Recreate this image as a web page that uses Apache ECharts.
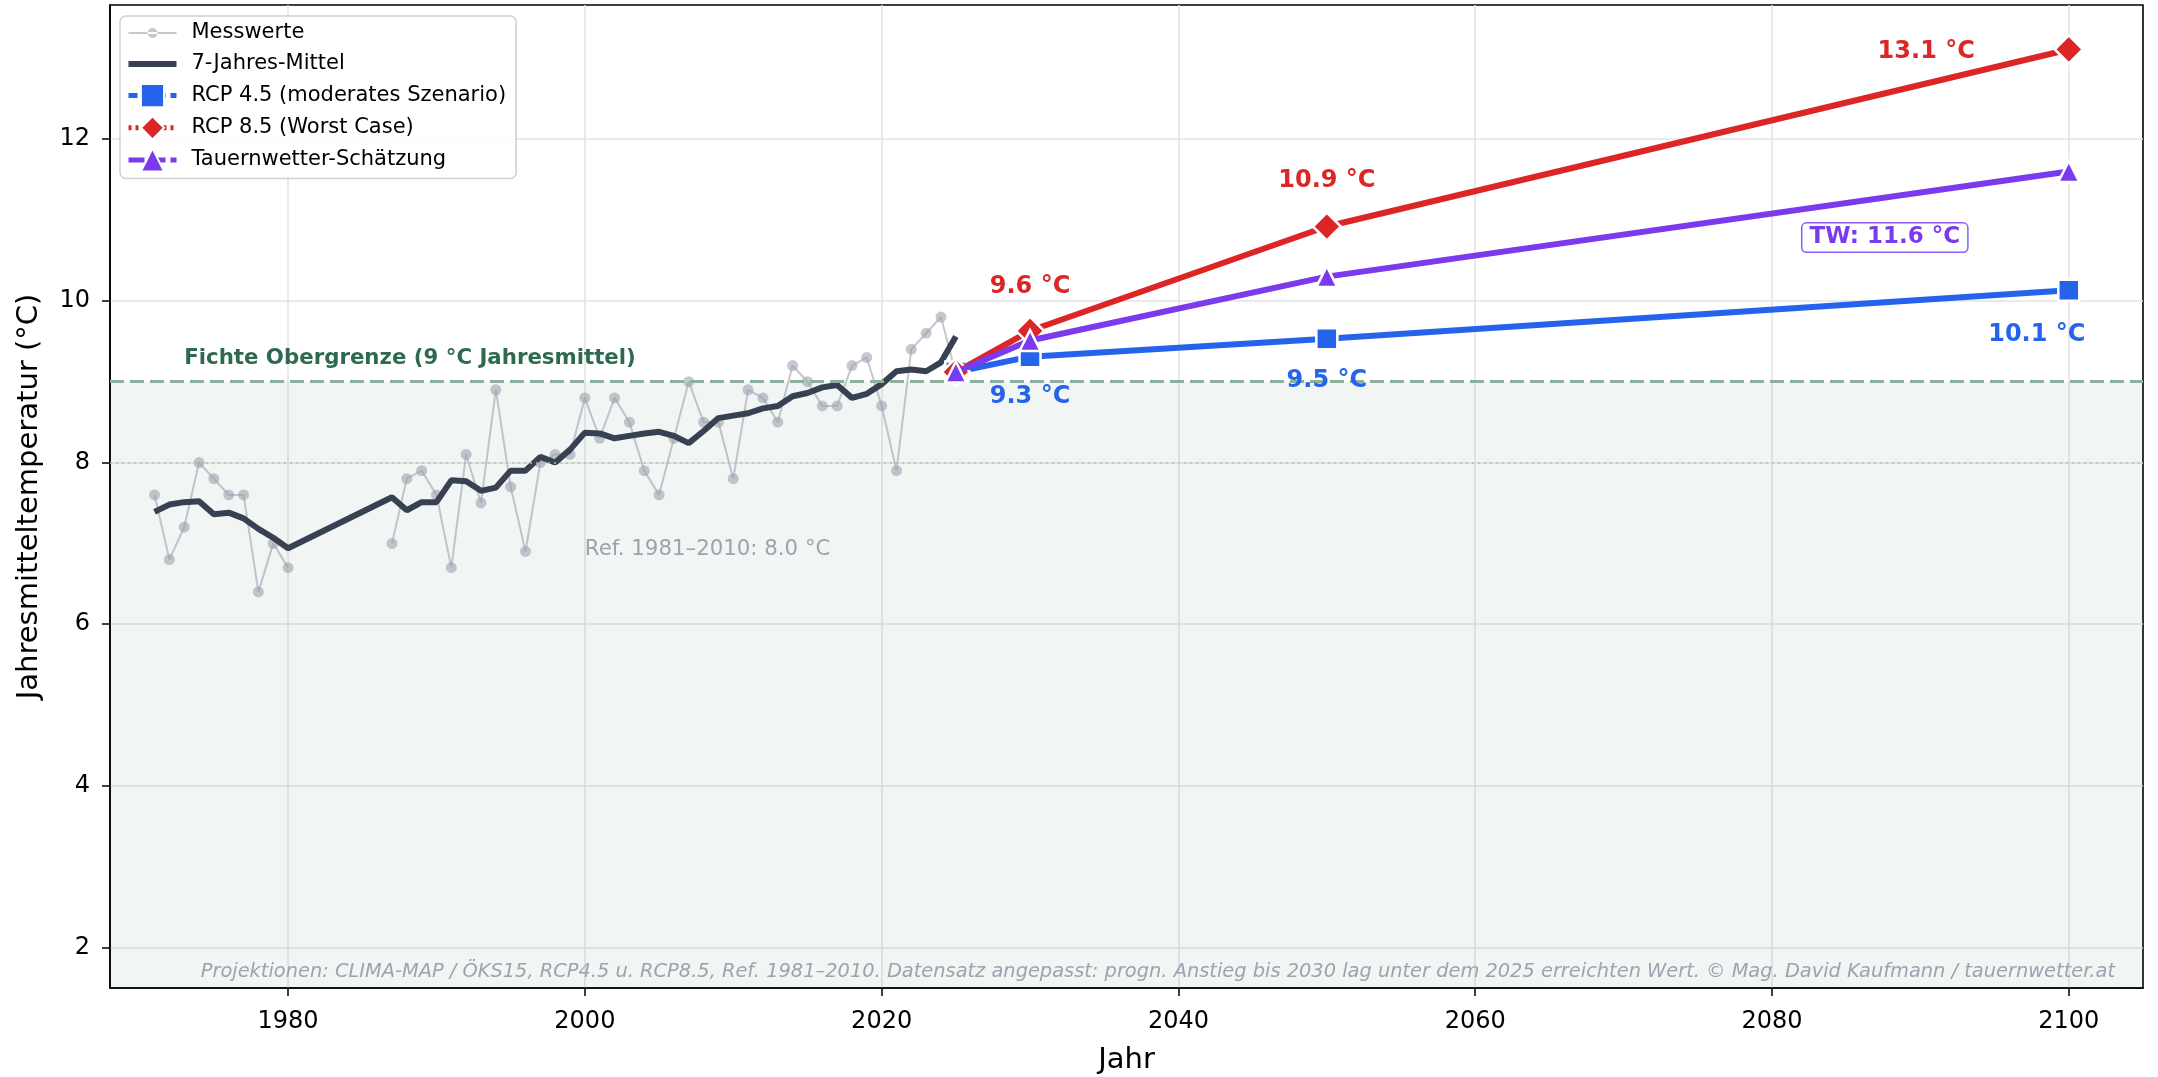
<!DOCTYPE html>
<html>
<head>
<meta charset="utf-8">
<script src="https://cdn.jsdelivr.net/npm/echarts@6/dist/echarts.min.js"></script>
<style>
html, body { margin: 0; padding: 0; background: #ffffff; }
#chart { width: 2158px; height: 1077px; }
</style>
</head>
<body>
<div id="chart"></div>
<script>
// ---------------- DATA ----------------
const measYears = [1971, 1972, 1973, 1974, 1975, 1976, 1977, 1978, 1979, 1980,
  1981, 1982, 1983, 1984, 1985, 1986,
  1987, 1988, 1989, 1990, 1991, 1992, 1993, 1994, 1995, 1996, 1997, 1998, 1999,
  2000, 2001, 2002, 2003, 2004, 2005, 2006, 2007, 2008, 2009, 2010, 2011, 2012,
  2013, 2014, 2015, 2016, 2017, 2018, 2019, 2020, 2021, 2022, 2023, 2024, 2025];
const measValues = [7.6, 6.8, 7.2, 8.0, 7.8, 7.6, 7.6, 6.4, 7.0, 6.7,
  null, null, null, null, null, null,
  7.0, 7.8, 7.9, 7.6, 6.7, 8.1, 7.5, 8.9, 7.7, 6.9, 8.0, 8.1, 8.1,
  8.8, 8.3, 8.8, 8.5, 7.9, 7.6, 8.3, 9.0, 8.5, 8.5, 7.8, 8.9, 8.8,
  8.5, 9.2, 9.0, 8.7, 8.7, 9.2, 9.3, 8.7, 7.9, 9.4, 9.6, 9.8, 9.1];

const meanYears = [1971, 1972, 1973, 1974, 1975, 1976, 1977, 1978, 1979, 1980,
  1987, 1988, 1989, 1990, 1991, 1992, 1993, 1994, 1995, 1996, 1997, 1998, 1999,
  2000, 2001, 2002, 2003, 2004, 2005, 2006, 2007, 2008, 2009, 2010, 2011, 2012,
  2013, 2014, 2015, 2016, 2017, 2018, 2019, 2020, 2021, 2022, 2023, 2024, 2025];
const meanValues = [7.39, 7.48, 7.51, 7.52, 7.36, 7.38, 7.31, 7.18, 7.07, 6.94,
  7.57, 7.41, 7.51, 7.51, 7.78, 7.77, 7.65, 7.69, 7.90, 7.90, 8.07, 8.00, 8.16,
  8.37, 8.36, 8.30, 8.33, 8.36, 8.38, 8.33, 8.24, 8.39, 8.55, 8.58, 8.61, 8.67,
  8.70, 8.82, 8.86, 8.93, 8.96, 8.80, 8.85, 8.97, 9.13, 9.15, 9.13, 9.24, 9.56];

const scenYears = [2025, 2030, 2050, 2100];
const rcp45Values = [9.12, 9.31, 9.53, 10.13];
const rcp85Values = [9.12, 9.63, 10.92, 13.11];
const twValues = [9.12, 9.51, 10.30, 11.60];

const rcp45Labels = ['', '9.3 °C', '9.5 °C', '10.1 °C'];
const rcp85Labels = ['', '9.6 °C', '10.9 °C', '13.1 °C'];
const twLabels = ['', '', '', 'TW: 11.6 °C'];

const seriesNames = ['Messwerte', '7-Jahres-Mittel', 'RCP 4.5 (moderates Szenario)',
  'RCP 8.5 (Worst Case)', 'Tauernwetter-Schätzung'];

const xTicks = [1980, 2000, 2020, 2040, 2060, 2080, 2100];
const yTicks = [2, 4, 6, 8, 10, 12];

const thresholdValue = 9;
const refValue = 8;
const thresholdText = 'Fichte Obergrenze (9 °C Jahresmittel)';
const refText = 'Ref. 1981–2010: 8.0 °C';
const footerText = 'Projektionen: CLIMA-MAP / ÖKS15, RCP4.5 u. RCP8.5, Ref. 1981–2010. Datensatz angepasst: progn. Anstieg bis 2030 lag unter dem 2025 erreichten Wert. © Mag. David Kaufmann / tauernwetter.at';
const xName = 'Jahr';
const yName = 'Jahresmitteltemperatur (°C)';

// ---------------- STYLE / LAYOUT ----------------
const FONT = '"DejaVu Sans", sans-serif';
const X_MIN = 1968, X_MAX = 2105, Y_MIN = 1.5, Y_MAX = 13.66;
const C_RED = '#dc2626', C_BLUE = '#2563eb', C_PURPLE = '#7c3aed', C_DARK = '#374151', C_GRAY = '#9ca3af';

const rcp45LabelPos = [null, { offset: [0, 40] }, { offset: [0, 42] }, { offset: [-32, 44] }];
const rcp85LabelPos = [null, { offset: [0, -44] }, { offset: [0, -46] }, { offset: [-94, 2], align: 'right' }];
const twLabelPos = [null, null, null, { offset: [-184, 66] }];

function pairs(xs, ys) { return xs.map((x, i) => [x, ys[i]]); }

function scenarioData(values, labels, pos, color, extra) {
  return scenYears.map((yr, i) => {
    const item = { value: [yr, values[i]] };
    if (labels[i]) {
      item.label = Object.assign({
        show: true,
        formatter: labels[i],
        position: 'inside',
        align: 'center',
        verticalAlign: 'middle',
        color: color,
        fontFamily: FONT,
        fontWeight: 'bold',
        fontSize: 24
      }, pos[i] || {}, extra || {});
    } else {
      item.label = { show: false };
    }
    return item;
  });
}

const chart = echarts.init(document.getElementById('chart'), null, { renderer: 'canvas' });

const option = {
  animation: false,
  backgroundColor: '#ffffff',
  textStyle: { fontFamily: FONT },
  grid: {
    left: 110, right: 15, top: 5, bottom: 89,
    containLabel: false,
    outerBoundsMode: 'none',
    show: true,
    borderColor: '#000000',
    borderWidth: 1.6,
    backgroundColor: 'transparent'
  },
  legend: {
    orient: 'vertical',
    left: 120,
    top: 16,
    itemWidth: 48,
    itemHeight: 29,
    itemGap: 7,
    padding: [5, 10, 6, 6],
    backgroundColor: 'rgba(255,255,255,0.85)',
    borderColor: '#cfcfcf',
    borderWidth: 1.5,
    borderRadius: 6,
    textStyle: { fontFamily: FONT, fontSize: 21, lineHeight: 24, color: '#000000', padding: [0, 0, 0, 10] },
    data: [
      { name: seriesNames[0], icon: 'path://M0,4.5h48v2h-48z M19,5.5a5,5 0 1,0 10,0a5,5 0 1,0 -10,0z' },
      { name: seriesNames[1], icon: 'path://M0,0h48v6h-48z' },
      { name: seriesNames[2], lineStyle: { type: [9, 5], width: 5 } },
      { name: seriesNames[3], lineStyle: { type: [3, 4], width: 5 } },
      { name: seriesNames[4], lineStyle: { type: [16, 5], width: 5 } }
    ]
  },
  xAxis: {
    type: 'value',
    min: X_MIN,
    max: X_MAX,
    name: xName,
    nameLocation: 'middle',
    nameGap: 58,
    nameTextStyle: { fontFamily: FONT, fontSize: 29, color: '#000000' },
    axisLine: { show: true, onZero: false, lineStyle: { color: '#000000', width: 1.6 } },
    axisTick: { show: true, customValues: xTicks, length: 8, lineStyle: { color: '#000000', width: 1.5 } },
    axisLabel: { customValues: xTicks, formatter: (v) => String(v), fontFamily: FONT, fontSize: 24, color: '#000000', margin: 22 },
    splitLine: { show: true, lineStyle: { color: '#e3e3e3', width: 1.5 } }
  },
  yAxis: {
    type: 'value',
    min: Y_MIN,
    max: Y_MAX,
    name: yName,
    nameLocation: 'middle',
    nameGap: 66,
    nameRotate: 90,
    nameTextStyle: { fontFamily: FONT, fontSize: 29, color: '#000000' },
    axisLine: { show: true, onZero: false, lineStyle: { color: '#000000', width: 1.6 } },
    axisTick: { show: true, customValues: yTicks, length: 8, lineStyle: { color: '#000000', width: 1.5 } },
    axisLabel: { customValues: yTicks, formatter: (v) => String(v), fontFamily: FONT, fontSize: 24, color: '#000000', margin: 20 },
    splitLine: { show: true, lineStyle: { color: '#e3e3e3', width: 1.5 } }
  },
  series: [
    {
      name: seriesNames[0],
      type: 'line',
      data: pairs(measYears, measValues),
      connectNulls: false,
      symbol: 'circle',
      symbolSize: 11,
      showAllSymbol: true,
      itemStyle: { color: C_GRAY, opacity: 0.6 },
      lineStyle: { color: C_GRAY, width: 2, opacity: 0.6 },
      z: 3,
      markArea: {
        silent: true,
        itemStyle: { color: 'rgba(45,106,79,0.065)' },
        data: [[{ yAxis: Y_MIN }, { yAxis: thresholdValue }]]
      },
      markLine: {
        silent: true,
        symbol: ['none', 'none'],
        label: { show: false },
        data: [
          { yAxis: thresholdValue, lineStyle: { color: '#8cb09b', type: [14, 6], width: 3.2 } },
          { yAxis: refValue, lineStyle: { color: '#b8bcc2', type: [2, 4], width: 1.6 } }
        ]
      },
      markPoint: {
        silent: true,
        symbol: 'circle',
        symbolSize: 0,
        data: [
          {
            coord: [1973, thresholdValue],
            label: {
              show: true, formatter: thresholdText, position: 'inside', align: 'left',
              verticalAlign: 'middle', offset: [0, -23], color: '#2d6a4f',
              fontFamily: FONT, fontWeight: 'bold', fontSize: 21.3
            }
          },
          {
            coord: [2000, 6.92],
            label: {
              show: true, formatter: refText, position: 'inside', align: 'left',
              verticalAlign: 'middle', offset: [0, 0], color: C_GRAY,
              fontFamily: FONT, fontSize: 21.3
            }
          }
        ]
      }
    },
    {
      name: seriesNames[1],
      type: 'line',
      data: pairs(meanYears, meanValues),
      symbol: 'none',
      itemStyle: { color: C_DARK },
      lineStyle: { color: C_DARK, width: 6 },
      z: 4
    },
    {
      name: seriesNames[2],
      type: 'line',
      data: scenarioData(rcp45Values, rcp45Labels, rcp45LabelPos, C_BLUE),
      symbol: 'rect',
      symbolSize: 21,
      showAllSymbol: true,
      itemStyle: { color: C_BLUE, borderColor: '#ffffff', borderWidth: 2.5 },
      lineStyle: { color: C_BLUE, width: 6 },
      z: 5
    },
    {
      name: seriesNames[3],
      type: 'line',
      data: scenarioData(rcp85Values, rcp85Labels, rcp85LabelPos, C_RED),
      symbol: 'diamond',
      symbolSize: 28,
      showAllSymbol: true,
      itemStyle: { color: C_RED, borderColor: '#ffffff', borderWidth: 2.5 },
      lineStyle: { color: C_RED, width: 6 },
      z: 6
    },
    {
      name: seriesNames[4],
      type: 'line',
      data: scenarioData(twValues, twLabels, twLabelPos, C_PURPLE, {
        fontSize: 23,
        backgroundColor: '#ffffff',
        borderColor: '#8b5cf6',
        borderWidth: 1.5,
        borderRadius: 4,
        padding: [3, 7, 2, 7]
      }),
      symbol: 'triangle',
      symbolSize: 21,
      showAllSymbol: true,
      itemStyle: { color: C_PURPLE, borderColor: '#ffffff', borderWidth: 2.5 },
      lineStyle: { color: C_PURPLE, width: 6 },
      z: 7
    }
  ],
  graphic: [
    {
      type: 'text',
      x: 2115,
      y: 972,
      z: 100,
      silent: true,
      style: {
        text: footerText,
        fill: C_GRAY,
        fontFamily: FONT,
        fontStyle: 'italic',
        fontSize: 19.4,
        align: 'right',
        verticalAlign: 'middle'
      }
    }
  ]
};

chart.setOption(option);
</script>
</body>
</html>
